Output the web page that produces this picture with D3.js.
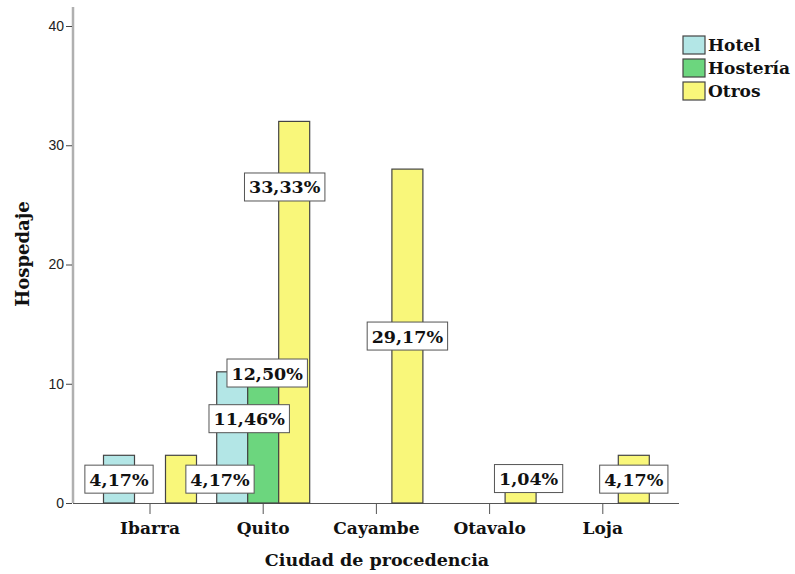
<!DOCTYPE html>
<html>
<head>
<meta charset="utf-8">
<script src="https://cdn.jsdelivr.net/npm/d3@7"></script>
<style>
  body { margin: 0; background: #fff; }
  svg { display: block; }
</style>
</head>
<body>
<svg id="grafico" width="795" height="574"></svg>
<script>
// --- DATOS ---
const ciudades = ["Ibarra", "Quito", "Cayambe", "Otavalo", "Loja"];
const tipos = ["Hotel", "Hostería", "Otros"];
const hotel = [4, 11, 0, 0, 0];
const hosteria = [0, 12, 0, 0, 0];
const otros = [4, 32, 28, 1, 4];
const ticksY = [0, 10, 20, 30, 40];

// donde va cada etiqueta (valor en el eje y, desplazamiento horizontal)
const etiquetas = [
  { ciudad: "Ibarra", tipo: "Hotel", en: 2, dx: 0 },
  { ciudad: "Ibarra", tipo: "Otros", en: 2, dx: 39 },
  { ciudad: "Quito", tipo: "Hotel", en: 7.07, dx: 17 },
  { ciudad: "Quito", tipo: "Hostería", en: 10.9, dx: 4 },
  { ciudad: "Quito", tipo: "Otros", en: 26.5, dx: -9.5 },
  { ciudad: "Cayambe", tipo: "Otros", en: 14, dx: 0 },
  { ciudad: "Otavalo", tipo: "Otros", en: 2.05, dx: 8 },
  { ciudad: "Loja", tipo: "Otros", en: 2, dx: 0 }
];

const colores = { "Hotel": "#b3e6e6", "Hostería": "#6cd67e", "Otros": "#f9f77a" };
const valores = { "Hotel": hotel, "Hostería": hosteria, "Otros": otros };
const total = d3.sum([...hotel, ...hosteria, ...otros]);

const fuenteSerif = "'DejaVu Serif', serif";

const svg = d3.select("#grafico");

// --- ESCALAS ---
const y = d3.scaleLinear().domain([0, 40]).range([503, 26]);
const x0 = d3.scaleBand().domain(ciudades).range([93.4, 659.4]).padding(0);
const x1 = d3.scaleBand().domain(tipos).range([0, x0.bandwidth()])
  .paddingInner(0).paddingOuter(0.326);

// --- EJES ---
svg.append("line")
  .attr("x1", 73).attr("x2", 73).attr("y1", 7).attr("y2", 503)
  .attr("stroke", "#b0b0b0").attr("stroke-width", 2.5);

const ejeY = svg.append("g").attr("transform", "translate(72,0)")
  .call(d3.axisLeft(y).tickValues(ticksY).tickSize(6).tickPadding(2));
ejeY.select(".domain").remove();
ejeY.selectAll(".tick line").attr("stroke", "#444");
ejeY.selectAll(".tick text")
  .attr("font-family", "Arial, 'Liberation Sans', sans-serif")
  .attr("font-size", 14).attr("fill", "#222");

const ejeX = svg.append("g").attr("transform", "translate(0,503)")
  .call(d3.axisBottom(x0).tickSize(11).tickSizeOuter(0).tickPadding(8));
ejeX.select(".domain").attr("d", "M73,0.5H679").attr("stroke", "#555");
ejeX.selectAll(".tick line").attr("stroke", "#555");
ejeX.selectAll(".tick text")
  .attr("font-family", fuenteSerif).attr("font-weight", "bold")
  .attr("font-size", 17).attr("fill", "#111");

// --- BARRAS ---
const datosBarras = [];
ciudades.forEach((c, i) => {
  tipos.forEach(t => {
    if (valores[t][i] > 0) datosBarras.push({ ciudad: c, tipo: t, valor: valores[t][i] });
  });
});

svg.append("g").selectAll("rect")
  .data(datosBarras)
  .enter().append("rect")
  .attr("x", d => x0(d.ciudad) + x1(d.tipo))
  .attr("y", d => y(d.valor))
  .attr("width", x1.bandwidth())
  .attr("height", d => y(0) - y(d.valor))
  .attr("fill", d => colores[d.tipo])
  .attr("stroke", "#444")
  .attr("stroke-width", 1.2);

// --- ETIQUETAS ---
const formato = v => d3.format(".2f")(v).replace(".", ",") + "%";

const gEt = svg.append("g");
etiquetas.forEach(e => {
  const i = ciudades.indexOf(e.ciudad);
  const v = valores[e.tipo][i];
  const cx = x0(e.ciudad) + x1(e.tipo) + x1.bandwidth() / 2 + e.dx;
  const cy = y(e.en);
  const g = gEt.append("g");
  const txt = g.append("text")
    .attr("x", cx).attr("y", cy + 6.5)
    .attr("text-anchor", "middle")
    .attr("font-family", fuenteSerif).attr("font-weight", "bold")
    .attr("font-size", 17.5).attr("fill", "#111")
    .text(formato(v / total * 100));
  const w = txt.node().getComputedTextLength() + 9;
  g.insert("rect", "text")
    .attr("x", cx - w / 2).attr("y", cy - 14)
    .attr("width", w).attr("height", 28)
    .attr("fill", "#fff").attr("stroke", "#555").attr("stroke-width", 1);
});

// --- TITULOS ---
svg.append("text")
  .attr("x", 377).attr("y", 566)
  .attr("text-anchor", "middle")
  .attr("font-family", fuenteSerif).attr("font-weight", "bold")
  .attr("font-size", 17.5).attr("fill", "#111")
  .text("Ciudad de procedencia");

svg.append("text")
  .attr("transform", "translate(29,254) rotate(-90)")
  .attr("text-anchor", "middle")
  .attr("font-family", fuenteSerif).attr("font-weight", "bold")
  .attr("font-size", 18).attr("fill", "#111")
  .text("Hospedaje");

// --- LEYENDA ---
const leyenda = svg.append("g").attr("transform", "translate(683,36)");
tipos.forEach((t, i) => {
  const fila = leyenda.append("g").attr("transform", `translate(0,${i * 23})`);
  fila.append("rect")
    .attr("width", 22).attr("height", 18)
    .attr("fill", colores[t]).attr("stroke", "#444").attr("stroke-width", 1.2);
  fila.append("text")
    .attr("x", 25).attr("y", 15)
    .attr("font-family", fuenteSerif).attr("font-weight", "bold")
    .attr("font-size", 17).attr("fill", "#111")
    .text(t);
});
</script>
</body>
</html>
